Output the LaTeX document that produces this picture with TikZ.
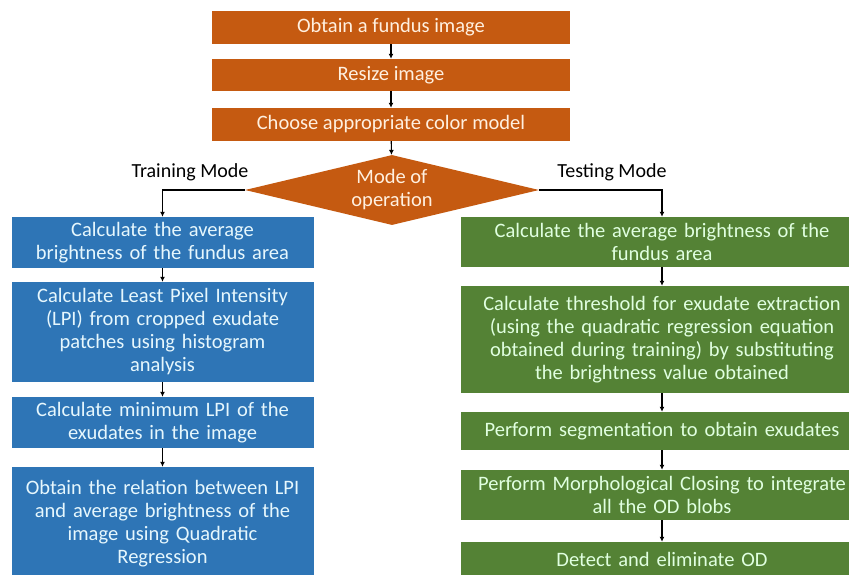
\documentclass[tikz,border=0pt]{standalone}
\usepackage{fontspec}
\setmainfont{Carlito}
\usetikzlibrary{shapes.geometric,arrows.meta}
\definecolor{orbox}{HTML}{C55A11}
\definecolor{blbox}{HTML}{2E75B6}
\definecolor{grbox}{HTML}{548235}
\begin{document}
\begin{tikzpicture}[x=1pt,y=-1pt,
  box/.style={rectangle, inner sep=2pt, align=center, font=\fontsize{20.5}{23}\selectfont},
  obox/.style={box, fill=orbox, text=white!88!orange, minimum width=358pt},
  bbox/.style={box, fill=blbox, text=white!90!cyan, minimum width=301pt, text width=298pt},
  gbox/.style={box, fill=grbox, text=white!88!green, minimum width=400pt, text width=398pt},
  arr/.style={-{Latex[length=5pt,width=5pt]}, line width=1.1pt, black},
  lbl/.style={font=\fontsize{20}{23}\selectfont, text=black}]
\useasboundingbox (0,0) rectangle (849,575);
\begin{scope}
\clip (0,0) rectangle (849,575);
\node[obox, minimum height=33pt] (o1) at (391,27.5) {Obtain a fundus image};
\node[obox, minimum height=32pt] (o2) at (391,75) {Resize image};
\node[obox, minimum height=33pt] (o3) at (391,124.5) {Choose appropriate color model};
\node[diamond, fill=orbox, inner sep=0pt, aspect=4.2, minimum width=294pt, minimum height=70pt,
      text=white!88!orange, align=center, font=\fontsize{20.5}{23}\selectfont] (d) at (392,190) {Mode of\\operation};
\node[bbox, minimum height=51pt] (b1) at (162.5,242.5) {Calculate the average\\brightness of the fundus area};
\node[bbox, minimum height=100pt] (b2) at (162.5,332) {Calculate Least Pixel Intensity\\(LPI) from cropped exudate\\patches using histogram\\analysis};
\node[bbox, minimum height=51pt] (b3) at (162.5,422.5) {Calculate minimum LPI of the\\exudates in the image};
\node[bbox, minimum height=113pt] (b4) at (162.5,523.5) {Obtain the relation between LPI\\and average brightness of the\\image using Quadratic\\Regression};
\node[gbox, minimum height=50pt] (g1) at (662,242) {Calculate the average brightness of the\\fundus area};
\node[gbox, minimum height=107pt] (g2) at (662,339.5) {Calculate threshold for exudate extraction\\(using the quadratic regression equation\\obtained during training) by substituting\\the brightness value obtained};
\node[gbox, minimum height=38pt] (g3) at (662,431) {Perform segmentation to obtain exudates};
\node[gbox, minimum height=50pt] (g4) at (662,495) {Perform Morphological Closing to integrate\\all the OD blobs};
\node[gbox, minimum height=34pt] (g5) at (662,559) {Detect and eliminate OD};
\end{scope}
\node[lbl] (tr) at (190,172) {Training Mode};
\node[lbl] (te) at (612,172) {Testing Mode};
\draw[arr] (o1) -- (o2);
\draw[arr] (o2) -- (o3);
\draw[arr] (o3) -- (d);
\draw[arr] (d.west) -| (b1.north);
\draw[arr] (d.east) -| (g1.north);
\draw[arr] (b1) -- (b2);
\draw[arr] (b2) -- (b3);
\draw[arr] (b3) -- (b4);
\draw[arr] (g1) -- (g2);
\draw[arr] (g2) -- (g3);
\draw[arr] (g3) -- (g4);
\draw[arr] (g4) -- (g5);
\end{tikzpicture}
\end{document}
